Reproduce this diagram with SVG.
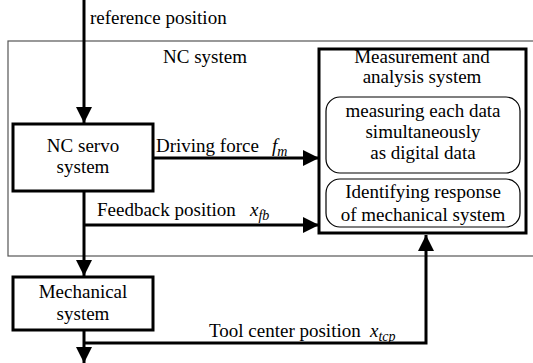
<svg xmlns="http://www.w3.org/2000/svg" width="533" height="363" viewBox="0 0 533 363">
<style>
text{font-family:"Liberation Serif","Times New Roman",serif;font-size:19px;fill:#000}
.c{text-anchor:middle}
.i{font-style:italic}
.box{fill:#fff;stroke:#000;stroke-width:3}
.rbox{fill:#fff;stroke:#000;stroke-width:1.2}
.ln{fill:none;stroke:#000;stroke-width:3}
</style>
<defs>
<marker id="ah" markerUnits="userSpaceOnUse" markerWidth="16" markerHeight="16" refX="16" refY="8" orient="auto">
<path d="M0,0 L16,8 L0,16 z" fill="#000"/>
</marker>
</defs>
<g id="nc-system">
<rect x="8" y="41" width="530" height="215" fill="none" stroke="#555" stroke-width="1.2"/>
<text class="c" x="205" y="63">NC system</text>
</g>
<g id="servo">
<rect class="box" x="13" y="124" width="140" height="67"/>
<text class="c" x="83" y="152">NC servo</text>
<text class="c" x="83" y="173">system</text>
</g>
<g id="measurement">
<rect class="box" x="319" y="49" width="207" height="184"/>
<text class="c" x="422" y="63">Measurement and</text>
<text class="c" x="422" y="83">analysis system</text>
<rect class="rbox" x="326" y="97" width="194" height="76" rx="14"/>
<text class="c" x="423" y="117">measuring each data</text>
<text class="c" x="423" y="138">simultaneously</text>
<text class="c" x="423" y="159">as digital data</text>
<rect class="rbox" x="326" y="179" width="194" height="48" rx="14"/>
<text class="c" x="423" y="198">Identifying response</text>
<text class="c" x="423" y="221">of mechanical system</text>
</g>
<g id="mechanical">
<rect class="box" x="13" y="277" width="140" height="53"/>
<text class="c" x="83" y="298">Mechanical</text>
<text class="c" x="83" y="320">system</text>
</g>
<g id="connectors">
<path class="ln" d="M84,0 V123" marker-end="url(#ah)"/>
<path class="ln" d="M153,158 H319" marker-end="url(#ah)"/>
<path class="ln" d="M84,191 V276" marker-end="url(#ah)"/>
<path class="ln" d="M84,225 H319" marker-end="url(#ah)"/>
<path class="ln" d="M84,330 V363" marker-end="url(#ah)"/>
<path class="ln" d="M84,343 H426 V235" marker-end="url(#ah)"/>
</g>
<g id="labels">
<text x="90" y="24">reference position</text>
<text x="156" y="152">Driving force</text>
<text class="i" x="272" y="152" font-size="22">f<tspan font-size="14" dy="4">m</tspan></text>
<text x="97" y="216">Feedback position</text>
<text class="i" x="250" y="216" font-size="22">x<tspan font-size="14" dy="4">fb</tspan></text>
<text x="209" y="337">Tool center position</text>
<text class="i" x="370" y="337" font-size="22">x<tspan font-size="14" dy="4">tcp</tspan></text>
</g>
</svg>
